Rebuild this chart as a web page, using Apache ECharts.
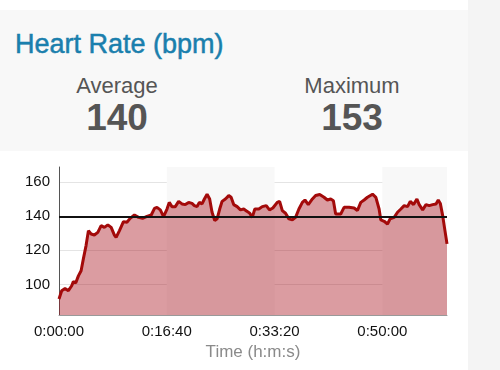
<!DOCTYPE html>
<html>
<head>
<meta charset="utf-8">
<script src="https://cdn.jsdelivr.net/npm/echarts@6/dist/echarts.min.js"></script>
<style>
  html, body { margin: 0; padding: 0; }
  body { width: 500px; height: 370px; background: #f4f4f4; position: relative; overflow: hidden;
         font-family: "Liberation Sans", Arial, Helvetica, sans-serif; }
  #topstrip { position: absolute; left: 0; top: 0; width: 468px; height: 10px; background: #ffffff; }
  #header { position: absolute; left: 0; top: 10px; width: 468px; height: 141px; background: #f8f8f8; }
  #title { position: absolute; left: 15px; top: 21px; font-size: 27px; line-height: 27px; color: #1a7fad; white-space: nowrap; -webkit-text-stroke: 0.5px #1a7fad; }
  .lab { position: absolute; width: 200px; text-align: center; font-size: 22px; line-height: 22px; color: #555; top: 65px; }
  .val { position: absolute; width: 200px; text-align: center; font-size: 37px; line-height: 37px; font-weight: bold; color: #555; top: 89px; }
  #chart { position: absolute; left: 0; top: 151px; width: 468px; height: 219px; background: #ffffff; }
</style>
</head>
<body>
<div id="topstrip"></div>
<div id="header">
  <div id="title"></div>
  <div class="lab" id="lab0" style="left:17px"></div>
  <div class="val" id="val0" style="left:17px"></div>
  <div class="lab" id="lab1" style="left:252px"></div>
  <div class="val" id="val1" style="left:252px"></div>
</div>
<div id="chart"></div>
<script>
// ---- data ----
var chartTitle = "Heart Rate (bpm)";
var statLabels = ["Average", "Maximum"];
var statValues = [140, 153];
var xAxisTitle = "Time (h:m:s)";
var averageHR = 140;

// seconds since start
var timeSec = [0, 25, 56, 87, 118, 133, 155, 180, 205, 226, 251, 273, 298, 328, 360, 391, 421, 453, 484, 514,
  530, 561, 598, 630, 660, 700, 738, 775, 816, 856, 886, 909, 940, 970, 1002, 1023, 1048, 1079, 1110, 1141,
  1172, 1203, 1234, 1256, 1281, 1302, 1327, 1349, 1374, 1398, 1420, 1445, 1467, 1491, 1513, 1544, 1575, 1597, 1621, 1653,
  1684, 1714, 1746, 1770, 1793, 1817, 1854, 1886, 1923, 1953, 1984, 2025, 2047, 2072, 2102, 2133, 2165, 2195, 2226, 2258,
  2282, 2313, 2351, 2381, 2419, 2459, 2490, 2521, 2546, 2567, 2614, 2645, 2691, 2738, 2769, 2800, 2831, 2862, 2909, 2940,
  2970, 2986, 3017, 3048, 3072, 3110, 3141, 3172, 3203, 3234, 3259, 3290, 3321, 3342, 3374, 3405, 3435, 3467, 3498, 3519,
  3538, 3560, 3581, 3600];
// heart rate (bpm)
var heartRate = [91.4, 96.3, 97.6, 96.3, 99.2, 101.6, 100.8, 105, 108, 115, 122.8, 131.6, 129.6, 129, 130.6, 134.5, 133.5, 135, 133.5, 129,
  127.6, 131.6, 136.9, 136.5, 138.8, 140.8, 139.4, 138.8, 140, 140.8, 144.7, 145.3, 143.8, 139.8, 144.3, 148.2, 145.7, 145.7, 148.8, 147.3,
  146.9, 148.2, 147.6, 146.3, 145.7, 148.2, 147.3, 150.2, 153, 150.2, 142.4, 137.5, 138.5, 144.3, 148.8, 150.2, 152.2, 151.2, 146.9, 145.7,
  143.8, 144.3, 142.9, 141.8, 139.4, 144.3, 144.3, 145.7, 146.3, 143.8, 144.9, 148.2, 148.8, 143.4, 141.8, 138.5, 137.9, 139.4, 144.3, 148.2,
  149.6, 146.9, 150.2, 152.2, 152.8, 151.2, 149.6, 150.2, 149.2, 141.4, 141.4, 145.3, 145.3, 144.9, 143.4, 148.2, 149.6, 151.2, 153, 151.2,
  144.3, 137.9, 137.1, 135.5, 138.5, 139.4, 142.4, 144.3, 146.3, 145.7, 148.8, 146.9, 150.2, 146.9, 143.8, 146.9, 146.3, 146.9, 147.3, 149.6,
  147.6, 140.4, 131.6, 123.8];

document.getElementById('title').textContent = chartTitle;
document.getElementById('lab0').textContent = statLabels[0];
document.getElementById('lab1').textContent = statLabels[1];
document.getElementById('val0').textContent = statValues[0];
document.getElementById('val1').textContent = statValues[1];

var seriesData = timeSec.map(function (t, i) { return [t, heartRate[i]]; });

function fmtTime(v) {
  var h = Math.floor(v / 3600);
  var m = Math.floor((v % 3600) / 60);
  var s = Math.round(v % 60);
  return h + ':' + (m < 10 ? '0' : '') + m + ':' + (s < 10 ? '0' : '') + s;
}

var chart = echarts.init(document.getElementById('chart'), null, { renderer: 'canvas' });
chart.setOption({
  animation: false,
  textStyle: { fontFamily: '"Liberation Sans", Arial, Helvetica, sans-serif' },
  grid: { left: 59, right: 21, top: 16, bottom: 55 },
  xAxis: {
    type: 'value', min: 0, max: 3600, interval: 1000,
    name: xAxisTitle, nameLocation: 'middle', nameGap: 29,
    nameTextStyle: { color: '#8a8a8a', fontSize: 17 },
    axisLine: { show: true, lineStyle: { color: '#999', width: 1 } },
    axisTick: { show: false },
    splitLine: { show: false },
    splitArea: { show: true, areaStyle: { color: ['rgba(255,255,255,0)', '#f8f8f8'] } },
    axisLabel: { color: '#111', fontSize: 15, margin: 9, showMaxLabel: false, formatter: fmtTime }
  },
  yAxis: {
    type: 'value', min: 82, max: 169, splitNumber: 5,
    axisLine: { show: true, lineStyle: { color: '#555', width: 1 } },
    axisTick: { show: false },
    splitLine: { show: true, showMinLine: false, showMaxLine: false, lineStyle: { color: '#e4e4e4', width: 1 } },
    axisLabel: { color: '#111', fontSize: 15, margin: 9, showMinLabel: false, showMaxLabel: false }
  },
  series: [{
    type: 'line',
    data: seriesData,
    showSymbol: false,
    smooth: false,
    lineStyle: { color: '#a30a0a', width: 3 },
    areaStyle: { color: 'rgb(170,20,30)', opacity: 0.42 },
    markLine: {
      silent: true, symbol: ['none', 'none'],
      label: { show: false },
      lineStyle: { color: '#111', width: 1.8, type: 'solid' },
      data: [{ yAxis: averageHR }]
    }
  }]
});
</script>
</body>
</html>
